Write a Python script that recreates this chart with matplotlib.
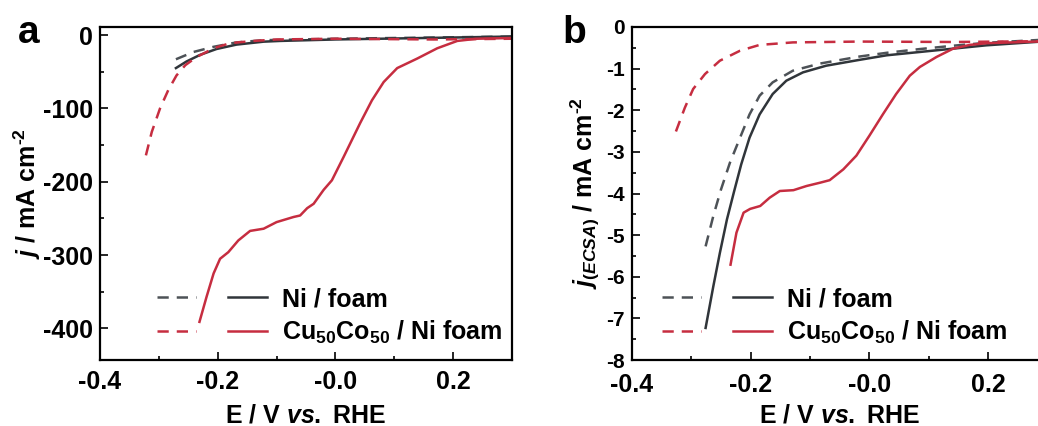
import matplotlib
matplotlib.use("Agg")
import matplotlib.pyplot as plt
from matplotlib.legend_handler import HandlerTuple
from matplotlib.ticker import MultipleLocator

plt.rcParams['font.family'] = ['Liberation Sans', 'DejaVu Sans']
plt.rcParams['font.weight'] = 'bold'
plt.rcParams['axes.unicode_minus'] = False
plt.rcParams['mathtext.fontset'] = 'custom'
plt.rcParams['mathtext.rm'] = 'Liberation Sans:bold'
plt.rcParams['mathtext.it'] = 'Liberation Sans:bold:italic'
plt.rcParams['mathtext.bf'] = 'Liberation Sans:bold'

# ---------------- Panel a data (j / mA cm^-2) ----------------
a_cu_solid_x = [-0.231, -0.219, -0.207, -0.196, -0.182, -0.165, -0.145, -0.122, -0.100, -0.071,
                -0.060, -0.048, -0.037, -0.020, -0.006, 0.014, 0.042, 0.062, 0.082, 0.105,
                0.139, 0.173, 0.207, 0.240, 0.300]
a_cu_solid_y = [-391, -357, -325, -305, -296, -280, -267, -264, -255, -248,
                -246, -236, -230, -211, -198, -166, -120, -89, -64, -45,
                -32, -18, -8, -5, -4]
a_ni_solid_x = [-0.271, -0.253, -0.230, -0.202, -0.168, -0.122, -0.094, 0.000, 0.150, 0.300]
a_ni_solid_y = [-45, -36, -27, -19, -13, -9, -8, -6, -4, -2]
a_ni_dash_x = [-0.271, -0.241, -0.207, -0.168, -0.122, 0.000, 0.150, 0.300]
a_ni_dash_y = [-33, -23, -16, -10, -7, -5, -3.5, -2]
a_cu_dash_x = [-0.322, -0.312, -0.298, -0.284, -0.270, -0.255, -0.236, -0.207, -0.179, -0.139,
               -0.100, 0.000, 0.167, 0.300]
a_cu_dash_y = [-164, -132, -100, -75, -55, -41, -30, -18, -11, -8,
               -6, -5, -6, -5]

# ---------------- Panel b data (j_ECSA / mA cm^-2) ----------------
b_cu_solid_x = [-0.234, -0.224, -0.212, -0.201, -0.184, -0.168, -0.151, -0.128, -0.106, -0.083,
                -0.067, -0.044, -0.022, 0.000, 0.023, 0.045, 0.068, 0.085, 0.113, 0.141,
                0.169, 0.197, 0.300]
b_cu_solid_y = [-5.71, -4.94, -4.46, -4.37, -4.30, -4.10, -3.94, -3.92, -3.82, -3.74,
                -3.68, -3.42, -3.09, -2.61, -2.09, -1.61, -1.17, -0.96, -0.72, -0.52,
                -0.43, -0.39, -0.34]
b_ni_solid_x = [-0.276, -0.263, -0.252, -0.240, -0.228, -0.216, -0.202, -0.185, -0.163, -0.140,
                -0.112, -0.073, -0.017, 0.029, 0.085, 0.141, 0.197, 0.300]
b_ni_solid_y = [-7.23, -6.23, -5.43, -4.62, -3.95, -3.30, -2.66, -2.10, -1.61, -1.29,
                -1.09, -0.93, -0.79, -0.68, -0.60, -0.52, -0.44, -0.34]
b_ni_dash_x = [-0.276, -0.263, -0.250, -0.235, -0.218, -0.202, -0.185, -0.163, -0.129, -0.084,
               -0.017, 0.029, 0.085, 0.141, 0.197, 0.300]
b_ni_dash_y = [-5.27, -4.54, -3.90, -3.26, -2.66, -2.10, -1.65, -1.33, -1.05, -0.88,
               -0.71, -0.62, -0.53, -0.45, -0.38, -0.30]
b_cu_dash_x = [-0.326, -0.311, -0.297, -0.277, -0.252, -0.218, -0.185, -0.129, -0.017,
               0.141, 0.300]
b_cu_dash_y = [-2.51, -1.94, -1.49, -1.13, -0.81, -0.57, -0.43, -0.37, -0.35,
               -0.36, -0.34]

label_ni = "Ni / foam"
label_cu = "Cu$_{50}$Co$_{50}$ / Ni foam"
xlabel = "E / V $vs.$ RHE"
ylabel_a = "$j$ / mA cm$^{\\text{-2}}$"
ylabel_b = "$j_{(ECSA)}$ / mA cm$^{\\text{-2}}$"

C_BLACK = "#30353a"
C_GRAY = "#4d5257"
C_RED = "#c62d40"
DASH = (0, (4.5, 3.2))
LW = 1.8
FS = 18

fig = plt.figure(figsize=(10.38, 4.26), dpi=100)
ax_a = fig.add_axes([100/1038, 1-360/426, 412/1038, 333/426])
ax_b = fig.add_axes([632/1038, 1-360/426, 415.5/1038, 333/426])


def fmt_x(v, pos):
    if abs(v) < 1e-9:
        return "-0.0"
    return f"{v:.1f}"


def style(ax, ylim, ymaj, ymin, ysize, xpad):
    ax.set_xlim(-0.4, 0.3)
    ax.set_ylim(*ylim)
    ax.xaxis.set_major_locator(MultipleLocator(0.2))
    ax.xaxis.set_minor_locator(MultipleLocator(0.1))
    ax.yaxis.set_major_locator(MultipleLocator(ymaj))
    ax.yaxis.set_minor_locator(MultipleLocator(ymin))
    ax.xaxis.set_major_formatter(plt.FuncFormatter(fmt_x))
    ax.tick_params(which='both', direction='in', top=False, right=False, width=1.2)
    ax.tick_params(axis='x', pad=xpad, labelsize=FS)
    ax.tick_params(axis='y', pad=5, labelsize=ysize)
    ax.tick_params(which='major', length=6)
    ax.tick_params(which='minor', length=3)
    for s in ax.spines.values():
        s.set_linewidth(1.6)
    for lab in ax.get_xticklabels() + ax.get_yticklabels():
        lab.set_fontweight('bold')


def add_legend(ax, handles, x0):
    ax.legend(handles, [label_ni, label_cu],
              handler_map={tuple: HandlerTuple(ndivide=None, pad=1.3)},
              loc='upper left', bbox_to_anchor=(x0, 0.219), frameon=False,
              borderpad=0, borderaxespad=0, handlelength=4.4, handletextpad=0.6,
              labelspacing=0.3, prop={'size': FS, 'weight': 'bold'})


# Panel a
l1, = ax_a.plot(a_ni_dash_x, a_ni_dash_y, color=C_GRAY, lw=LW, linestyle=DASH)
l2, = ax_a.plot(a_ni_solid_x, a_ni_solid_y, color=C_BLACK, lw=LW)
l3, = ax_a.plot(a_cu_dash_x, a_cu_dash_y, color=C_RED, lw=LW, linestyle=DASH)
l4, = ax_a.plot(a_cu_solid_x, a_cu_solid_y, color=C_RED, lw=LW)
style(ax_a, (-443, 11), 100, 50, FS, 7)
ax_a.set_xlabel(xlabel, fontsize=FS, fontweight='bold', labelpad=7)
ax_a.set_ylabel(ylabel_a, fontsize=FS, fontweight='bold', labelpad=0)
add_legend(ax_a, [(l1, l2), (l3, l4)], 0.138)
fig.text(18/1038, 1-33/426, "a", fontsize=28, fontweight='bold', va='center', ha='left')

# Panel b
m1, = ax_b.plot(b_ni_dash_x, b_ni_dash_y, color=C_GRAY, lw=LW, linestyle=DASH)
m2, = ax_b.plot(b_ni_solid_x, b_ni_solid_y, color=C_BLACK, lw=LW)
m3, = ax_b.plot(b_cu_dash_x, b_cu_dash_y, color=C_RED, lw=LW, linestyle=DASH)
m4, = ax_b.plot(b_cu_solid_x, b_cu_solid_y, color=C_RED, lw=LW)
style(ax_b, (-8, 0), 1, 0.5, 15, 9)
ax_b.set_xlabel(xlabel, fontsize=FS, fontweight='bold', labelpad=5)
ax_b.set_ylabel(ylabel_b, fontsize=FS, fontweight='bold', labelpad=3)
add_legend(ax_b, [(m1, m2), (m3, m4)], 0.072)
fig.text(562/1038, 1-33/426, "b", fontsize=28, fontweight='bold', va='center', ha='left')

fig.savefig("out.png", dpi=100)
